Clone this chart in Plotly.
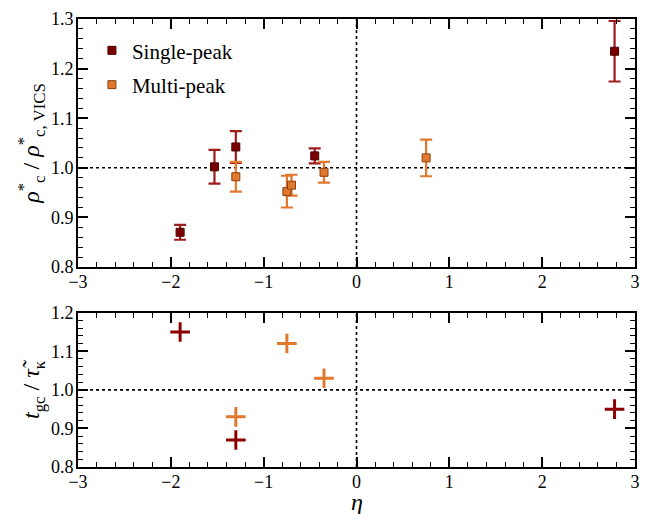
import plotly.graph_objects as go

# ---- data ----
single_eta = [-1.9, -1.53, -1.3, -0.45, 2.78]
single_rho = [0.870, 1.002, 1.042, 1.024, 1.235]
single_err = [0.015, 0.034, 0.032, 0.015, 0.061]

multi_eta = [-1.3, -0.75, -0.70, -0.35, 0.75]
multi_rho = [0.982, 0.952, 0.965, 0.991, 1.020]
multi_err = [0.030, 0.032, 0.021, 0.021, 0.037]

single_t_eta = [-1.9, -1.3, 2.78]
single_t = [1.15, 0.87, 0.95]
multi_t_eta = [-1.3, -0.75, -0.35]
multi_t = [0.93, 1.12, 1.03]

RED_BAR = "#9E1C1C"
ORG = "#E0782E"
FONT = "Liberation Serif"

fig = go.Figure()

fig.add_trace(go.Scatter(
    x=single_eta, y=single_rho, mode="markers", name="Single-peak", legendgroup="a",
    marker=dict(symbol="square", size=8, color="#7A0000", line=dict(color="#4A0000", width=1)),
    error_y=dict(type="data", array=single_err, visible=True, color=RED_BAR, thickness=2.2, width=6),
    xaxis="x", yaxis="y"))
fig.add_trace(go.Scatter(
    x=multi_eta, y=multi_rho, mode="markers", name="Multi-peak", legendgroup="b",
    marker=dict(symbol="square", size=8, color=ORG, line=dict(color="#8A4010", width=1)),
    error_y=dict(type="data", array=multi_err, visible=True, color=ORG, thickness=2.2, width=6),
    xaxis="x", yaxis="y"))

fig.add_trace(go.Scatter(
    x=single_t_eta, y=single_t, mode="markers", showlegend=False,
    marker=dict(symbol="cross-thin", size=14, line=dict(color="#8B0000", width=3)),
    xaxis="x2", yaxis="y2"))
fig.add_trace(go.Scatter(
    x=multi_t_eta, y=multi_t, mode="markers", showlegend=False,
    marker=dict(symbol="cross-thin", size=14, line=dict(color=ORG, width=3)),
    xaxis="x2", yaxis="y2"))

dot = dict(color="black", width=1.6, dash="dot")
for xr, yr in (("x", "y"), ("x2", "y2")):
    fig.add_shape(type="line", xref=xr, yref=yr + " domain", x0=0, x1=0, y0=0, y1=1, line=dot, layer="below")
    fig.add_shape(type="line", xref=xr + " domain", yref=yr, x0=0, x1=1, y0=1, y1=1, line=dot, layer="below")

axis_common = dict(
    showline=True, linecolor="black", linewidth=2, mirror="ticks",
    ticks="inside", ticklen=10, tickwidth=1.6, tickcolor="black",
    showgrid=False, zeroline=False,
    tickfont=dict(family=FONT, size=18, color="black"),
)
minor_x = dict(ticks="inside", ticklen=5, tickwidth=1.2, dtick=0.2, tickcolor="black")
minor_y = dict(ticks="inside", ticklen=5, tickwidth=1.2, dtick=0.02, tickcolor="black")

fig.update_layout(
    width=645, height=514,
    margin=dict(l=78, r=5, t=19, b=47),
    paper_bgcolor="white", plot_bgcolor="white",
    font=dict(family=FONT, color="black", size=18),
    xaxis=dict(domain=[0, 1], range=[-3, 3], dtick=1, anchor="y", minor=minor_x,
               ticklabelstandoff=-3, **axis_common),
    yaxis=dict(domain=[0.4464, 1], range=[0.8, 1.3], dtick=0.1, tickformat=".1f", anchor="x",
               minor=minor_y, ticklabelstandoff=-1,
               title=dict(text="<i>ρ</i><sup>*</sup><sub>c</sub> / <i>ρ</i><sup>*</sup><sub>c, VICS</sub>",
                          font=dict(family=FONT, size=24), standoff=4),
               **axis_common),
    xaxis2=dict(domain=[0, 1], range=[-3, 3], dtick=1, anchor="y2", minor=minor_x,
                ticklabelstandoff=-3, **axis_common),
    yaxis2=dict(domain=[0, 0.3444], range=[0.8, 1.2], dtick=0.1, tickformat=".1f", anchor="x2",
                minor=minor_y, ticklabelstandoff=-1,
                title=dict(text="<i>t</i><sub>gc</sub> / <i>τ̃</i><sub>κ</sub>",
                           font=dict(family=FONT, size=24), standoff=4),
                **axis_common),
    legend=dict(x=0.025, y=0.975, xanchor="left", yanchor="top",
                font=dict(family=FONT, size=21, color="black"),
                bgcolor="rgba(0,0,0,0)", traceorder="grouped", tracegroupgap=4, itemwidth=30),
    showlegend=True,
    annotations=[dict(text="<i>η</i>", xref="x2 domain", yref="paper", x=0.5, y=0,
                      xanchor="center", yanchor="top", yshift=-20, showarrow=False,
                      font=dict(family=FONT, size=24, color="black"))],
)

fig.write_html("out.html", config={"displayModeBar": False},
               post_script="document.body.style.margin='0';document.body.style.padding='0';")
